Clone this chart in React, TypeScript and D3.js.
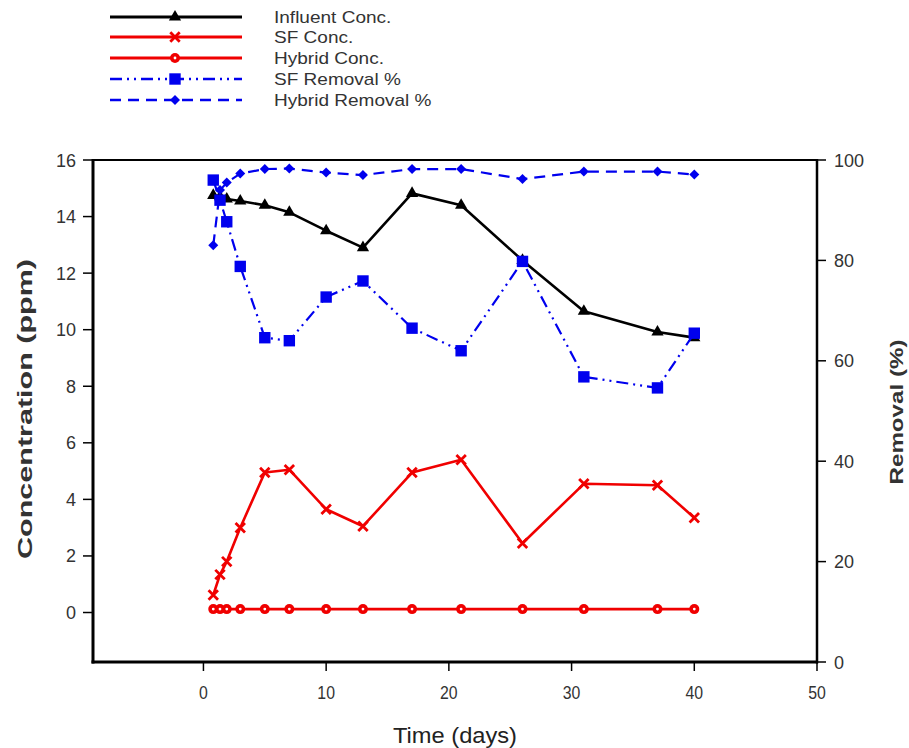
import React from "react";
import * as d3 from "d3";

const infDays = [0.8, 1.35, 1.9, 3, 5, 7, 10, 13, 17, 21, 26, 31, 37, 40];
const infConc = [14.75, 14.7, 14.62, 14.55, 14.4, 14.15, 13.5, 12.9, 14.82, 14.4, 12.45, 10.65, 9.92, 9.72];

const sfDays = [0.8, 1.35, 1.9, 3, 5, 7, 10, 13, 17, 21, 26, 31, 37, 40];
const sfConc = [0.62, 1.34, 1.8, 3.0, 4.95, 5.05, 3.65, 3.05, 4.95, 5.4, 2.45, 4.55, 4.5, 3.35];

const hyDays = [0.8, 1.35, 1.9, 3, 5, 7, 10, 13, 17, 21, 26, 31, 37, 40];
const hyConc = [0.12, 0.12, 0.12, 0.12, 0.12, 0.12, 0.12, 0.12, 0.12, 0.12, 0.12, 0.12, 0.12, 0.12];

const sfRemDays = [0.8, 1.35, 1.9, 3, 5, 7, 10, 13, 17, 21, 26, 31, 37, 40];
const sfRemoval = [96, 92, 87.7, 78.8, 64.6, 64, 72.7, 75.9, 66.5, 62, 79.8, 56.8, 54.6, 65.5];

const hyRemDays = [0.8, 1.35, 1.9, 3, 5, 7, 10, 13, 17, 21, 26, 31, 37, 40];
const hyRemoval = [83, 94, 95.5, 97.3, 98.2, 98.3, 97.5, 97, 98.2, 98.2, 96.2, 97.7, 97.7, 97.1];

const xTicks = [0, 10, 20, 30, 40, 50];
const yLeftTicks = [0, 2, 4, 6, 8, 10, 12, 14, 16];
const yRightTicks = [0, 20, 40, 60, 80, 100];

const legendLabels = ["Influent Conc.", "SF Conc.", "Hybrid Conc.", "SF Removal %", "Hybrid Removal %"];

const RED = "#f00000";
const BLUE = "#0000ee";
const FONT = "'Liberation Sans', Arial, sans-serif";

const L = 93, R = 817, T = 160, B = 662;

const x = d3.scaleLinear().domain([-9, 50]).range([L, R]);
const yL = d3.scaleLinear().domain([-1.75, 16]).range([B, T]);
const yR = d3.scaleLinear().domain([0, 100]).range([B, T]);

type MarkerKind = "tri" | "x" | "circ" | "sq" | "dia";

function Marker({ kind, cx, cy }: { kind: MarkerKind; cx: number; cy: number }) {
  if (kind === "tri") {
    const p = d3.symbol().type(d3.symbolTriangle).size(65)();
    return <path d={p || ""} transform={`translate(${cx},${cy})`} fill="#000" />;
  }
  if (kind === "x") {
    const p = d3.symbol().type(d3.symbolX).size(60)();
    return <path d={p || ""} transform={`translate(${cx},${cy})`} fill="none" stroke={RED} strokeWidth={2.8} />;
  }
  if (kind === "circ") {
    return (
      <g>
        <circle cx={cx} cy={cy} r={5} fill={RED} />
        <circle cx={cx} cy={cy} r={1.4} fill="#fff" />
      </g>
    );
  }
  if (kind === "sq") {
    const p = d3.symbol().type(d3.symbolSquare).size(130)();
    return <path d={p || ""} transform={`translate(${cx},${cy})`} fill={BLUE} />;
  }
  const p = d3.symbol().type(d3.symbolSquare).size(50)();
  return <path d={p || ""} transform={`translate(${cx},${cy}) rotate(45)`} fill={BLUE} />;
}

interface Series {
  days: number[];
  vals: number[];
  axis: "L" | "R";
  color: string;
  width: number;
  dash?: string;
  marker: MarkerKind;
}

const seriesList: Series[] = [
  { days: infDays, vals: infConc, axis: "L", color: "#000", width: 2.6, marker: "tri" },
  { days: sfDays, vals: sfConc, axis: "L", color: RED, width: 2.6, marker: "x" },
  { days: hyDays, vals: hyConc, axis: "L", color: RED, width: 2.6, marker: "circ" },
  { days: sfRemDays, vals: sfRemoval, axis: "R", color: BLUE, width: 2.2, dash: "12,5,2,5,2,5", marker: "sq" },
  { days: hyRemDays, vals: hyRemoval, axis: "R", color: BLUE, width: 2.2, dash: "11,7", marker: "dia" },
];

export default function App() {
  const legendY = [17, 37, 58, 79, 100];
  return (
    <div style={{ position: "absolute", left: 0, top: 0 }}>
      <svg width={909} height={748} style={{ display: "block", background: "#fff" }}>
        {/* series */}
        {seriesList.map((s, i) => {
          const ys = s.axis === "L" ? yL : yR;
          const line = d3
            .line<number>()
            .x((_, j) => x(s.days[j]))
            .y((v) => ys(v));
          return (
            <g key={i}>
              <path d={line(s.vals) || ""} fill="none" stroke={s.color} strokeWidth={s.width} strokeDasharray={s.dash} strokeLinejoin="round" />
              {s.vals.map((v, j) => (
                <Marker key={j} kind={s.marker} cx={x(s.days[j])} cy={ys(v)} />
              ))}
            </g>
          );
        })}

        {/* frame */}
        <line x1={L} y1={T} x2={R} y2={T} stroke="#000" strokeWidth={2.2} />
        <line x1={L} y1={T - 1} x2={L} y2={B + 1.5} stroke="#000" strokeWidth={3} />
        <line x1={L - 1.5} y1={B} x2={R + 1} y2={B} stroke="#000" strokeWidth={3} />
        <line x1={R} y1={T - 1} x2={R} y2={B + 1.5} stroke="#000" strokeWidth={2.5} />

        {/* left axis ticks */}
        {yLeftTicks.map((t) => (
          <g key={"l" + t}>
            <line x1={L - 10} x2={L} y1={yL(t)} y2={yL(t)} stroke="#000" strokeWidth={1.5} />
            <text x={76} y={yL(t) + 6.5} textAnchor="end" fontFamily={FONT} fontSize={18} fill="#333">
              {t}
            </text>
          </g>
        ))}
        {/* right axis ticks */}
        {yRightTicks.map((t) => (
          <g key={"r" + t}>
            <line x1={R} x2={R + 9} y1={yR(t)} y2={yR(t)} stroke="#000" strokeWidth={1.5} />
            <text x={R + 17} y={yR(t) + 6.5} textAnchor="start" fontFamily={FONT} fontSize={18} fill="#333">
              {t}
            </text>
          </g>
        ))}
        {/* bottom axis ticks */}
        {xTicks.map((t) => (
          <g key={"b" + t}>
            <line x1={x(t)} x2={x(t)} y1={B} y2={B + 9} stroke="#000" strokeWidth={1.5} />
            <text
              transform={`translate(${x(t)},${B + 37}) scale(0.88,1)`}
              textAnchor="middle"
              fontFamily={FONT}
              fontSize={18}
              fill="#333"
            >
              {t}
            </text>
          </g>
        ))}

        {/* axis titles */}
        <text
          x={455}
          y={743}
          textAnchor="middle"
          fontFamily={FONT}
          fontSize={22}
          fill="#222"
          textLength={124}
          lengthAdjust="spacingAndGlyphs"
        >
          Time (days)
        </text>
        <text
          transform={`translate(32,409) rotate(-90)`}
          textAnchor="middle"
          fontFamily={FONT}
          fontSize={20}
          fontWeight="bold"
          fill="#333"
          textLength={300}
          lengthAdjust="spacingAndGlyphs"
        >
          Concentration (ppm)
        </text>
        <text
          transform={`translate(903,412) rotate(-90)`}
          textAnchor="middle"
          fontFamily={FONT}
          fontSize={19}
          fontWeight="bold"
          fill="#333"
          textLength={145}
          lengthAdjust="spacingAndGlyphs"
        >
          Removal (%)
        </text>

        {/* legend */}
        {seriesList.map((s, i) => (
          <g key={"lg" + i}>
            <line
              x1={110}
              x2={242}
              y1={legendY[i]}
              y2={legendY[i]}
              stroke={s.color}
              strokeWidth={s.width + 0.4}
              strokeDasharray={s.dash}
            />
            <Marker kind={s.marker} cx={175} cy={legendY[i]} />
            <text
              transform={`translate(274,${legendY[i] + 6}) scale(1.12,1)`}
              fontFamily={FONT}
              fontSize={17}
              fill="#333"
            >
              {legendLabels[i]}
            </text>
          </g>
        ))}
      </svg>
    </div>
  );
}
